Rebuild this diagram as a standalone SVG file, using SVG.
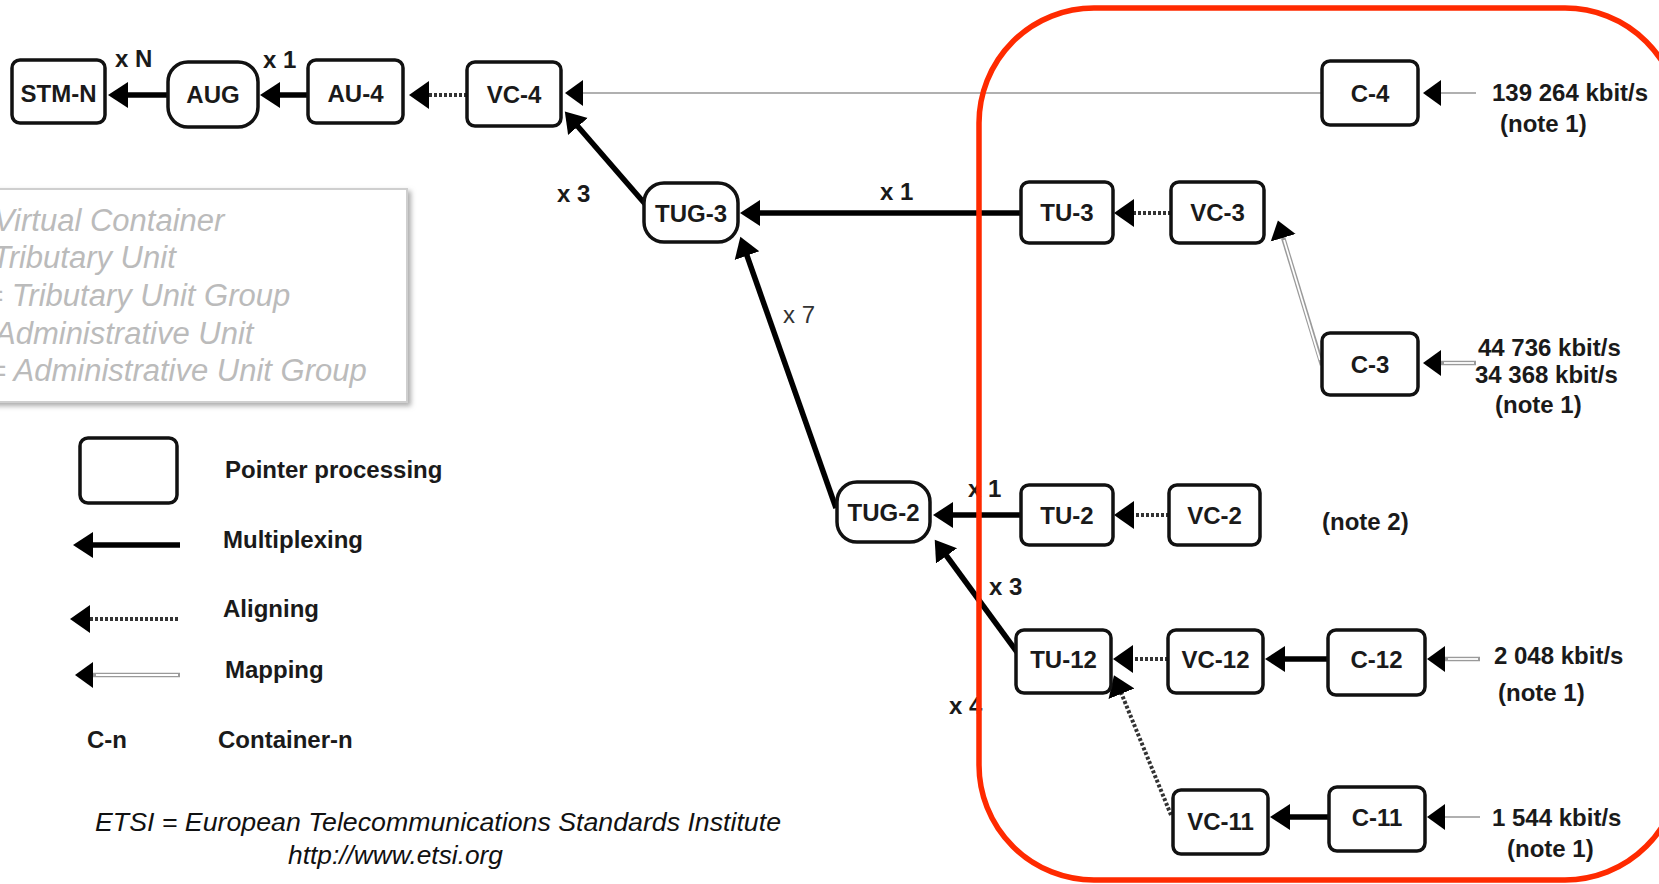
<svg xmlns="http://www.w3.org/2000/svg" width="1659" height="884" viewBox="0 0 1659 884">
<style>
.box{fill:#fff;stroke:#111;stroke-width:3.5}
.lbl{font-family:"Liberation Sans",Arial,sans-serif;font-weight:bold;font-size:24px;fill:#1a1a1a;text-anchor:middle}
.t{font-family:"Liberation Sans",Arial,sans-serif;font-weight:bold;font-size:24px;fill:#1a1a1a}
.tn{font-family:"Liberation Sans",Arial,sans-serif;font-size:24px;fill:#333}
.gray{font-family:"Liberation Sans",Arial,sans-serif;font-style:italic;font-size:31px;fill:#bbbbbb}
.foot{font-family:"Liberation Sans",Arial,sans-serif;font-style:italic;font-size:26px;fill:#111}
.mux{fill:none;stroke:#000;stroke-width:5.5}
.aln{fill:none;stroke:#333;stroke-width:4;stroke-dasharray:3 2}
.mapo{fill:none;stroke:#9a9a9a;stroke-width:4.5}
.mapi{fill:none;stroke:#fff;stroke-width:1.8}
.mapt{fill:none;stroke:#b0b0b0;stroke-width:2}
</style>
<defs>
<marker id="hm" markerUnits="userSpaceOnUse" markerWidth="24" markerHeight="30" viewBox="0 -15 24 30" refX="6" refY="0" orient="auto"><path d="M0,-13 L20,0 L0,13 z" fill="#000"/></marker>
<marker id="ha" markerUnits="userSpaceOnUse" markerWidth="24" markerHeight="32" viewBox="0 -16 24 32" refX="4" refY="0" orient="auto"><path d="M0,-14 L20,0 L0,14 z" fill="#000"/></marker>
<marker id="hp" markerUnits="userSpaceOnUse" markerWidth="22" markerHeight="30" viewBox="0 -15 22 30" refX="4" refY="0" orient="auto"><path d="M0,-13 L18,0 L0,13 z" fill="#000"/></marker>
<filter id="sh" x="-10%" y="-10%" width="130%" height="130%"><feDropShadow dx="3" dy="3" stdDeviation="2.5" flood-color="#888" flood-opacity="0.7"/></filter>
</defs>

<g id="legend-box">
<rect x="-10" y="189" width="417" height="213" fill="#fff" stroke="#cfcfcf" stroke-width="2" filter="url(#sh)"/>
<text class="gray" x="-6" y="231">Virtual Container</text>
<text class="gray" x="-8" y="268">Tributary Unit</text>
<text class="gray" x="-15" y="306">= Tributary Unit Group</text>
<text class="gray" x="-12" y="381">= Administrative Unit Group</text>
<text class="gray" x="-5" y="344">Administrative Unit</text>
</g>

<g id="legend-keys">
<rect class="box" x="80" y="438" width="97" height="65" rx="8"/>
<text class="t" x="225" y="478">Pointer processing</text>
<line class="mux" x1="180" y1="545" x2="87" y2="545" marker-end="url(#hm)"/>
<text class="t" x="223" y="548">Multiplexing</text>
<line class="aln" x1="178" y1="619" x2="86" y2="619" marker-end="url(#ha)"/>
<text class="t" x="223" y="617">Aligning</text>
<line class="mapo" x1="180" y1="675" x2="89" y2="675" marker-end="url(#hp)"/>
<line class="mapi" x1="178" y1="675" x2="96" y2="675"/>
<text class="t" x="225" y="678">Mapping</text>
<text class="t" x="87" y="748">C-n</text>
<text class="t" x="218" y="748">Container-n</text>
</g>

<g id="footer">
<text class="foot" x="95" y="831" textLength="686" lengthAdjust="spacingAndGlyphs">ETSI = European Telecommunications Standards Institute</text>
<text class="foot" x="288" y="864" textLength="215" lengthAdjust="spacingAndGlyphs">http://www.etsi.org</text>
</g>

<g id="connectors">
<line class="mux" x1="168" y1="95" x2="122" y2="95" marker-end="url(#hm)"/>
<line class="mux" x1="308" y1="95" x2="274" y2="95" marker-end="url(#hm)"/>
<line class="aln" x1="467" y1="95" x2="425" y2="95" marker-end="url(#ha)"/>
<line class="mapt" x1="1322" y1="93" x2="579" y2="93" marker-end="url(#hp)"/>
<line class="mapt" x1="1476" y1="93" x2="1437" y2="93" marker-end="url(#hp)"/>
<line class="mux" x1="646" y1="205" x2="574" y2="122" marker-end="url(#hm)"/>
<line class="mux" x1="1021" y1="213" x2="754" y2="213" marker-end="url(#hm)"/>
<line class="aln" x1="1171" y1="213" x2="1130" y2="213" marker-end="url(#ha)"/>
<line class="mapo" x1="1322" y1="365" x2="1282" y2="234" marker-end="url(#hp)"/>
<line class="mapi" x1="1320" y1="360" x2="1284" y2="240"/>
<line class="mapo" x1="1476" y1="363" x2="1437" y2="363" marker-end="url(#hp)"/>
<line class="mapi" x1="1474" y1="363" x2="1444" y2="363"/>
<line class="mux" x1="836" y1="508" x2="745" y2="250" marker-end="url(#hm)"/>
<line class="mux" x1="1021" y1="515" x2="947" y2="515" marker-end="url(#hm)"/>
<line class="aln" x1="1169" y1="515" x2="1130" y2="515" marker-end="url(#ha)"/>
<line class="mux" x1="1017" y1="652" x2="943" y2="551" marker-end="url(#hm)"/>
<line class="aln" x1="1168" y1="659" x2="1129" y2="659" marker-end="url(#ha)"/>
<line class="mux" x1="1328" y1="659" x2="1279" y2="659" marker-end="url(#hm)"/>
<line class="mapo" x1="1480" y1="659" x2="1441" y2="659" marker-end="url(#hp)"/>
<line class="mapi" x1="1478" y1="659" x2="1448" y2="659"/>
<line class="aln" x1="1171" y1="815" x2="1120" y2="690" marker-end="url(#ha)"/>
<line class="mux" x1="1329" y1="817" x2="1284" y2="817" marker-end="url(#hm)"/>
<line class="mapt" x1="1480" y1="817" x2="1441" y2="817" marker-end="url(#hp)"/>
</g>

<g id="mult-labels">
<text class="t" x="115" y="67">x N</text>
<text class="t" x="263" y="68">x 1</text>
<text class="t" x="557" y="202">x 3</text>
<text class="t" x="880" y="200">x 1</text>
<text class="tn" x="783" y="323">x 7</text>
<text class="t" x="968" y="497">x 1</text>
<text class="t" x="989" y="595">x 3</text>
<text class="t" x="949" y="714">x 4</text>
</g>

<g id="stm-n"><rect class="box" x="12" y="60" width="93" height="63" rx="8"/><text class="lbl" x="58.5" y="102">STM-N</text></g>
<g id="aug"><rect class="box" x="168" y="62" width="90" height="65" rx="20"/><text class="lbl" x="213" y="103">AUG</text></g>
<g id="au-4"><rect class="box" x="308" y="60" width="95" height="63" rx="8"/><text class="lbl" x="355.5" y="102">AU-4</text></g>
<g id="vc-4"><rect class="box" x="467" y="62" width="94" height="64" rx="8"/><text class="lbl" x="514" y="103">VC-4</text></g>
<g id="c-4"><rect class="box" x="1322" y="61" width="96" height="64" rx="8"/><text class="lbl" x="1370" y="102">C-4</text>
<text class="t" x="1492" y="101">139 264 kbit/s</text><text class="t" x="1500" y="132">(note 1)</text></g>
<g id="tug-3"><rect class="box" x="644" y="183" width="94" height="59" rx="20"/><text class="lbl" x="691" y="222">TUG-3</text></g>
<g id="tu-3"><rect class="box" x="1021" y="182" width="92" height="61" rx="8"/><text class="lbl" x="1067" y="221">TU-3</text></g>
<g id="vc-3"><rect class="box" x="1171" y="182" width="93" height="61" rx="8"/><text class="lbl" x="1217.5" y="221">VC-3</text></g>
<g id="c-3"><rect class="box" x="1322" y="333" width="96" height="62" rx="8"/><text class="lbl" x="1370" y="373">C-3</text>
<text class="t" x="1478" y="356">44 736 kbit/s</text><text class="t" x="1475" y="383">34 368 kbit/s</text><text class="t" x="1495" y="413">(note 1)</text></g>
<g id="tug-2"><rect class="box" x="837" y="482" width="93" height="60" rx="20"/><text class="lbl" x="883.5" y="521">TUG-2</text></g>
<g id="tu-2"><rect class="box" x="1021" y="485" width="92" height="60" rx="8"/><text class="lbl" x="1067" y="524">TU-2</text></g>
<g id="vc-2"><rect class="box" x="1169" y="485" width="91" height="60" rx="8"/><text class="lbl" x="1214.5" y="524">VC-2</text>
<text class="t" x="1322" y="530">(note 2)</text></g>
<g id="tu-12"><rect class="box" x="1016" y="630" width="95" height="63" rx="8"/><text class="lbl" x="1063.5" y="668">TU-12</text></g>
<g id="vc-12"><rect class="box" x="1168" y="630" width="95" height="63" rx="8"/><text class="lbl" x="1215.5" y="668">VC-12</text></g>
<g id="c-12"><rect class="box" x="1328" y="630" width="97" height="65" rx="8"/><text class="lbl" x="1376.5" y="668">C-12</text>
<text class="t" x="1494" y="664">2 048 kbit/s</text><text class="t" x="1498" y="701">(note 1)</text></g>
<g id="vc-11"><rect class="box" x="1173" y="790" width="95" height="64" rx="8"/><text class="lbl" x="1220.5" y="830">VC-11</text></g>
<g id="c-11"><rect class="box" x="1329" y="787" width="96" height="64" rx="8"/><text class="lbl" x="1377" y="826">C-11</text>
<text class="t" x="1492" y="826">1 544 kbit/s</text><text class="t" x="1507" y="857">(note 1)</text></g>

<g id="highlight">
<rect x="979" y="8" width="701" height="872" rx="115" fill="none" stroke="#ff2a00" stroke-width="5.5"/>
</g>
</svg>
